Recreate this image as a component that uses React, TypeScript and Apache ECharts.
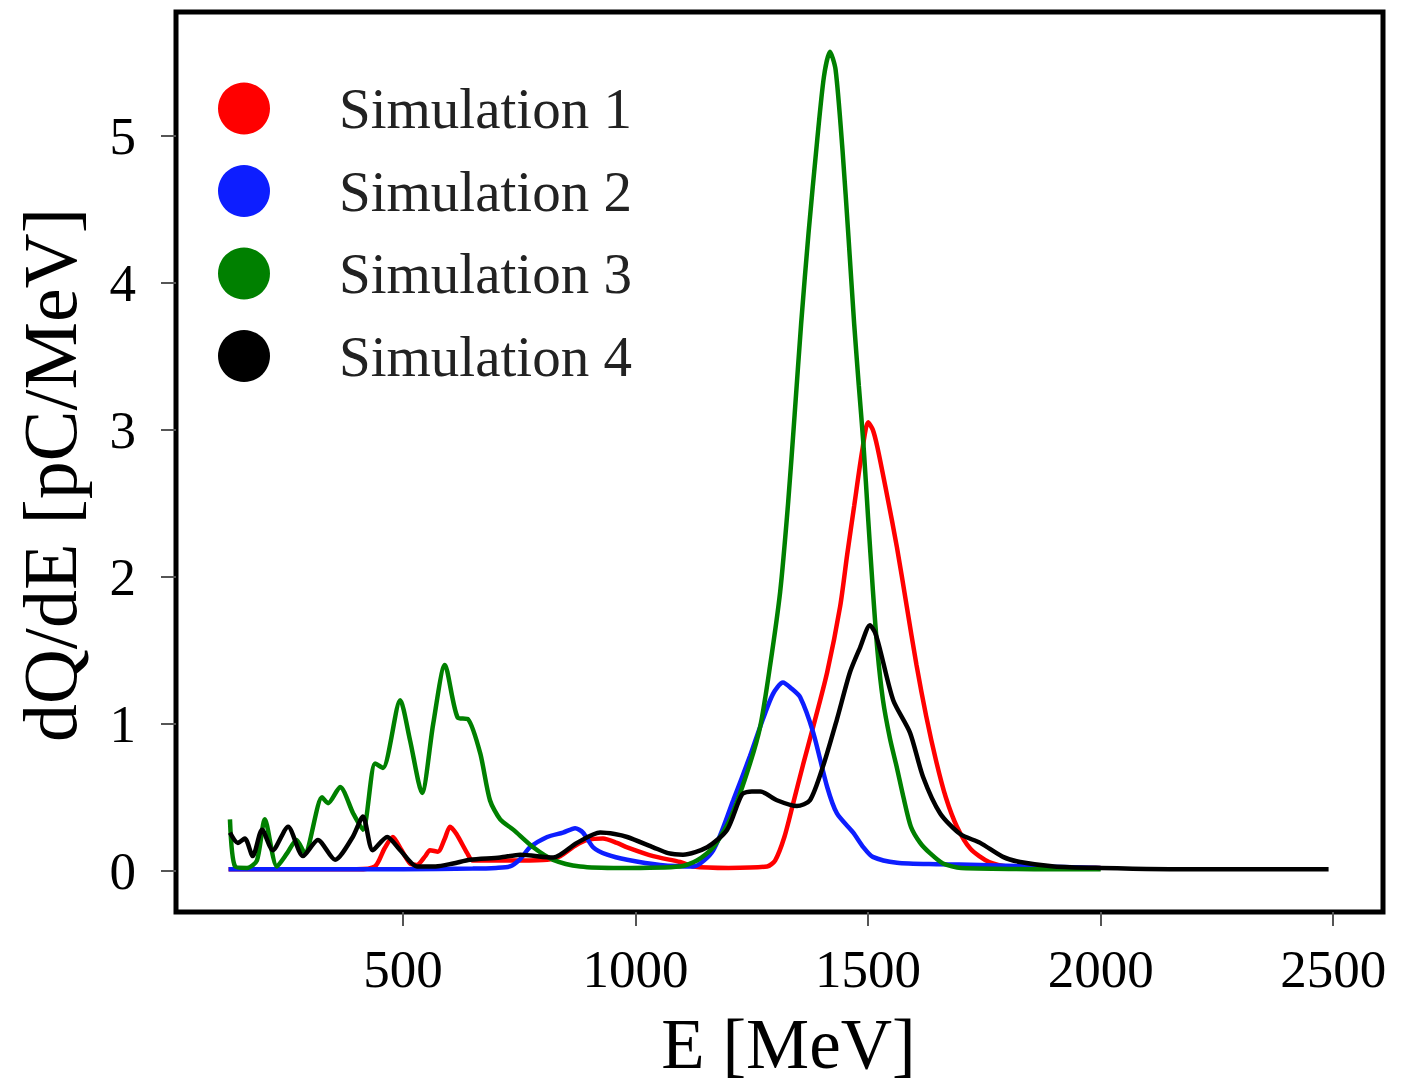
import React, { useEffect, useRef } from "react";
import * as echarts from "echarts";

const seriesNames = ["Simulation 1", "Simulation 2", "Simulation 3", "Simulation 4"];
const seriesColors = ["#ff0000", "#0d1eff", "#008000", "#000000"];

const xTicks = [500, 1000, 1500, 2000, 2500];
const yTicks = [0, 1, 2, 3, 4, 5];

const sim1: [number, number][] = [
  [125, 0.01], [200, 0.01], [300, 0.01], [400, 0.01], [440, 0.03], [460, 0.15], [478, 0.23], [495, 0.15],
  [515, 0.05], [530, 0.04], [548, 0.1], [558, 0.14], [575, 0.13], [590, 0.22], [601, 0.3], [615, 0.25],
  [638, 0.12], [650, 0.07], [700, 0.07], [752, 0.07], [810, 0.075], [838, 0.1], [870, 0.17], [896, 0.21],
  [930, 0.22], [960, 0.19], [982, 0.16], [1038, 0.1], [1096, 0.06], [1124, 0.03], [1200, 0.02], [1283, 0.03],
  [1300, 0.07], [1320, 0.23], [1339, 0.46], [1360, 0.72], [1382, 0.98], [1412, 1.35], [1440, 1.8], [1455, 2.15],
  [1470, 2.48], [1487, 2.85], [1500, 3.05], [1510, 3.0], [1520, 2.88], [1541, 2.55], [1562, 2.2], [1583, 1.8],
  [1604, 1.4], [1625, 1.05], [1646, 0.75], [1667, 0.5], [1691, 0.3], [1720, 0.15], [1760, 0.06], [1800, 0.03],
  [2000, 0.02],
];

const sim2: [number, number][] = [
  [125, 0.01], [300, 0.01], [500, 0.01], [650, 0.015], [700, 0.02], [730, 0.03], [752, 0.08], [773, 0.16],
  [810, 0.23], [844, 0.26], [870, 0.29], [887, 0.26], [909, 0.16], [939, 0.11], [982, 0.075], [1053, 0.04],
  [1124, 0.03], [1167, 0.14], [1210, 0.48], [1246, 0.78], [1268, 0.98], [1295, 1.2], [1317, 1.28], [1335, 1.24],
  [1354, 1.18], [1382, 0.94], [1412, 0.57], [1433, 0.39], [1468, 0.26], [1490, 0.16], [1510, 0.095], [1562, 0.055],
  [1650, 0.045], [1741, 0.04], [1850, 0.03], [2000, 0.02],
];

const sim3: [number, number][] = [
  [128, 0.35], [139, 0.03], [165, 0.02], [186, 0.07], [203, 0.35], [229, 0.03], [251, 0.12], [271, 0.21],
  [289, 0.12], [326, 0.5], [339, 0.46], [365, 0.57], [393, 0.39], [414, 0.28], [440, 0.73], [457, 0.7],
  [494, 1.16], [515, 0.89], [541, 0.53], [565, 1.0], [590, 1.4], [618, 1.04], [640, 1.03], [666, 0.8],
  [687, 0.48], [709, 0.35], [737, 0.28], [780, 0.16], [823, 0.075], [881, 0.03], [967, 0.02], [1096, 0.03],
  [1132, 0.07], [1167, 0.16], [1203, 0.35], [1240, 0.67], [1268, 0.98], [1289, 1.39], [1311, 1.9], [1328, 2.5],
  [1342, 3.1], [1356, 3.72], [1372, 4.34], [1390, 4.95], [1405, 5.4], [1418, 5.57], [1430, 5.45], [1445, 4.9],
  [1458, 4.3], [1470, 3.72], [1480, 3.3], [1490, 2.9], [1500, 2.4], [1510, 1.92], [1520, 1.5], [1532, 1.16],
  [1547, 0.9], [1562, 0.7], [1576, 0.5], [1592, 0.3], [1612, 0.19], [1633, 0.12], [1661, 0.05], [1700, 0.02],
  [2000, 0.01],
];

const sim4: [number, number][] = [
  [128, 0.26], [145, 0.19], [160, 0.22], [177, 0.1], [197, 0.28], [220, 0.14], [253, 0.3], [285, 0.1],
  [317, 0.21], [354, 0.075], [392, 0.23], [414, 0.37], [435, 0.14], [466, 0.23], [494, 0.14], [530, 0.03],
  [570, 0.03], [608, 0.05], [644, 0.075], [709, 0.09], [752, 0.11], [823, 0.09], [874, 0.19], [924, 0.26],
  [955, 0.25], [982, 0.23], [1038, 0.16], [1070, 0.12], [1102, 0.11], [1154, 0.16], [1197, 0.28], [1229, 0.52],
  [1250, 0.54], [1268, 0.54], [1304, 0.48], [1347, 0.44], [1375, 0.48], [1403, 0.71], [1433, 1.03], [1461, 1.35],
  [1483, 1.52], [1504, 1.67], [1515, 1.62], [1526, 1.5], [1554, 1.16], [1590, 0.94], [1618, 0.64], [1655, 0.39],
  [1698, 0.25], [1741, 0.19], [1790, 0.095], [1827, 0.06], [1900, 0.03], [2000, 0.02], [2200, 0.01], [2490, 0.01],
];

const allSeries = [sim1, sim2, sim3, sim4];

const FONT = "'Liberation Serif', 'DejaVu Serif', serif";

export default function App() {
  const ref = useRef<HTMLDivElement>(null);
  useEffect(() => {
    if (!ref.current) return;
    const chart = echarts.init(ref.current, null, { renderer: "svg" });
    chart.setOption({
      animation: false,
      backgroundColor: "#ffffff",
      grid: {
        left: 176,
        right: 33,
        top: 12,
        bottom: 172,
        show: true,
        borderColor: "#000",
        borderWidth: 5,
        backgroundColor: "transparent",
        outerBoundsMode: "none",
      },
      legend: {
        left: 213,
        top: 75,
        orient: "vertical",
        icon: "circle",
        itemWidth: 52,
        itemHeight: 52,
        itemGap: 25.5,
        data: seriesNames,
        textStyle: {
          fontFamily: FONT,
          fontSize: 57,
          color: "#222",
          padding: [0, 0, 0, 64],
        },
      },
      xAxis: {
        type: "value",
        min: 12,
        max: 2607,
        name: "E [MeV]",
        nameLocation: "middle",
        nameGap: 96,
        nameTextStyle: { fontFamily: FONT, fontSize: 71, color: "#000", padding: [0, 0, 0, 18] },
        splitLine: { show: false },
        axisLine: { show: false, onZero: false },
        axisTick: { show: true, inside: false, length: 14, lineStyle: { color: "#555", width: 2 }, customValues: xTicks },
        axisLabel: {
          fontFamily: FONT,
          fontSize: 53,
          color: "#000",
          margin: 30,
          customValues: xTicks,
          formatter: (v: number) => String(v),
        },
      },
      yAxis: {
        type: "value",
        min: -0.28,
        max: 5.84,
        name: "dQ/dE [pC/MeV]",
        nameLocation: "middle",
        nameGap: 88,
        nameTextStyle: { fontFamily: FONT, fontSize: 76, color: "#000", padding: [0, 26, 0, 0] },
        splitLine: { show: false },
        axisLine: { show: false, onZero: false },
        axisTick: { show: true, inside: false, length: 15, lineStyle: { color: "#555", width: 2 }, customValues: yTicks },
        axisLabel: {
          fontFamily: FONT,
          fontSize: 53,
          color: "#000",
          margin: 40,
          customValues: yTicks,
          formatter: (v: number) => String(v),
        },
      },
      series: allSeries.map((d, i) => ({
        name: seriesNames[i],
        type: "line",
        data: d,
        showSymbol: false,
        smooth: 0.25,
        color: seriesColors[i],
        lineStyle: { color: seriesColors[i], width: 4.5 },
        z: 2 + i,
      })),
    });
    return () => chart.dispose();
  }, []);
  return (
    <div
      ref={ref}
      style={{ position: "absolute", left: 0, top: 0, width: 1416, height: 1084 }}
    />
  );
}
